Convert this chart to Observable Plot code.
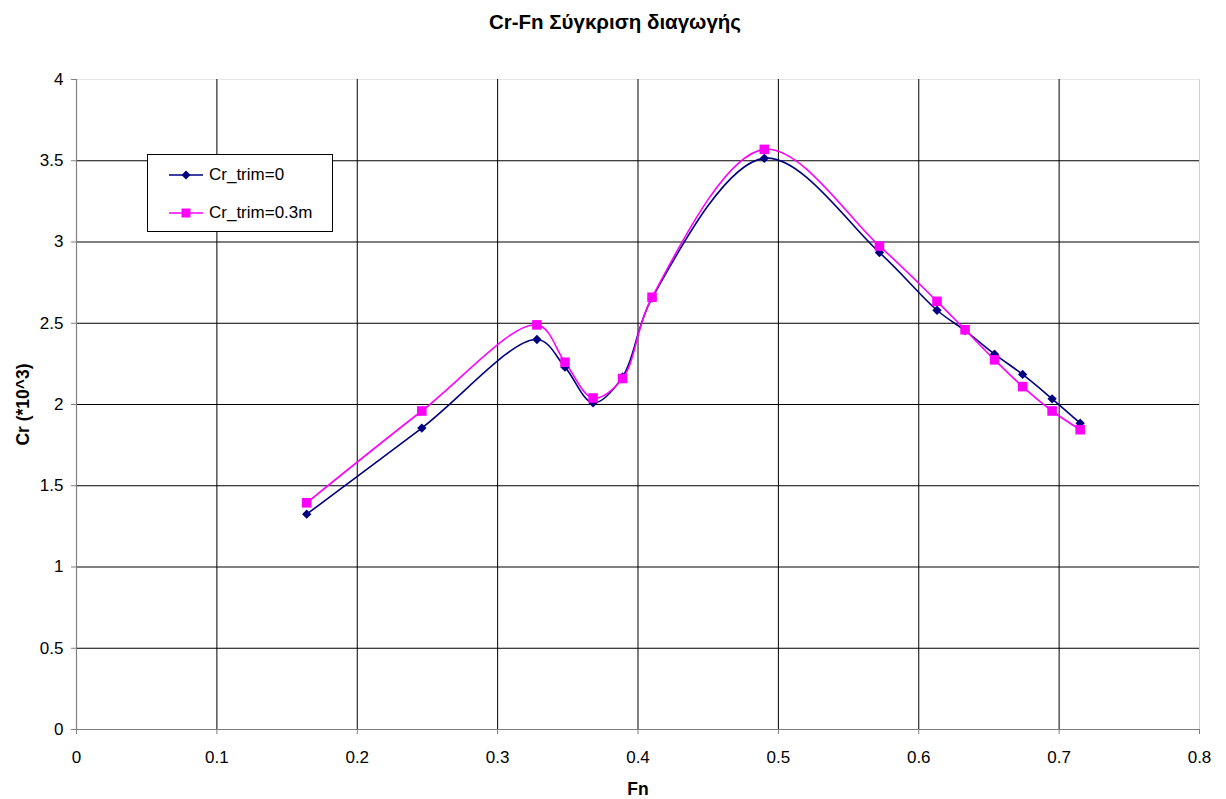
<!DOCTYPE html>
<html>
<head>
<meta charset="utf-8">
<script src="https://cdn.jsdelivr.net/npm/d3@7"></script>
<script src="https://cdn.jsdelivr.net/npm/@observablehq/plot@0.6"></script>
<style>
  html, body { margin: 0; padding: 0; background: #fff; }
  body { width: 1226px; height: 799px; position: relative; overflow: hidden; font-family: "Liberation Sans", Arial, sans-serif; }
  #title { height: 40px; line-height: 44px; text-align: center; font-weight: bold; font-size: 20.5px; color: #000; padding-left: 4px; }
  #legend { position: absolute; left: 147px; top: 154px; width: 184px; height: 76px; border: 1px solid #000; background: #fff; font-size: 17px; }
  .entry { position: absolute; left: 20px; height: 20px; display: flex; align-items: center; }
  .entry span { margin-left: 5px; }
  #chart svg g[aria-label="x-axis tick label"] text,
  #chart svg g[aria-label="y-axis tick label"] text { font-size: 17px !important; font-family: "Liberation Sans", Arial, sans-serif !important; }
</style>
</head>
<body>
<div id="title">Cr-Fn Σύγκριση διαγωγής</div>
<div id="chart"></div>
<div id="legend">
  <div class="entry" style="top:10px"><svg width="36" height="12"><line x1="1" y1="6" x2="35" y2="6" stroke="#000080" stroke-width="1.5"/><path d="M18,1.5L22.5,6L18,10.5L13.5,6Z" fill="#000080"/></svg><span>Cr_trim=0</span></div>
  <div class="entry" style="top:48px"><svg width="36" height="12"><line x1="1" y1="6" x2="35" y2="6" stroke="#FF00FF" stroke-width="1.5"/><rect x="13.5" y="1.5" width="9" height="9" fill="#FF00FF"/></svg><span>Cr_trim=0.3m</span></div>
</div>
<script>
const fn = [0.164, 0.246, 0.328, 0.348, 0.368, 0.389, 0.410, 0.490, 0.572, 0.613, 0.633, 0.654, 0.674, 0.695, 0.715];
const crTrim0 = [1.325, 1.855, 2.40, 2.23, 2.01, 2.17, 2.655, 3.515, 2.935, 2.58, 2.455, 2.31, 2.185, 2.035, 1.885];
const crTrim03 = [1.395, 1.96, 2.49, 2.26, 2.04, 2.16, 2.66, 3.57, 2.975, 2.635, 2.46, 2.275, 2.11, 1.96, 1.845];
const seriesNames = ["Cr_trim=0", "Cr_trim=0.3m"];
const yTicks = [0, 0.5, 1, 1.5, 2, 2.5, 3, 3.5, 4];
const xTicks = [0, 0.1, 0.2, 0.3, 0.4, 0.5, 0.6, 0.7, 0.8];

const s0 = fn.map((x, i) => ({x, y: crTrim0[i], s: seriesNames[0]}));
const s1 = fn.map((x, i) => ({x, y: crTrim03[i], s: seriesNames[1]}));

const chart = Plot.plot({
  width: 1226,
  height: 759,
  marginTop: 39,
  marginBottom: 70,
  marginLeft: 76,
  marginRight: 27,
  style: {fontFamily: '"Liberation Sans", Arial, sans-serif', fontSize: "17px", color: "#000", background: "#fff"},
  x: {domain: [0, 0.8]},
  y: {domain: [0, 4]},
  marks: [
    Plot.ruleY(yTicks.filter(d => d > 0 && d < 4), {stroke: "#000", strokeWidth: 1}),
    Plot.ruleY([4], {stroke: "#e6e6e6"}),
    Plot.ruleX(xTicks.filter(d => d > 0 && d < 0.8), {stroke: "#000", strokeWidth: 1}),
    Plot.ruleX([0.8], {stroke: "#d0d0d0"}),
    Plot.ruleY([0], {stroke: "#808080", strokeWidth: 1.2}),
    Plot.ruleX([0], {stroke: "#808080", strokeWidth: 1.2}),
    Plot.axisY(yTicks, {tickSize: 5, tickPadding: 8, stroke: "#808080", label: null, tickFormat: d => String(d), fill: "#000", fontSize: 17}),
    Plot.axisX(xTicks, {tickSize: 5, tickPadding: 16, stroke: "#808080", label: null, tickFormat: d => String(d), fill: "#000", fontSize: 17}),
    Plot.line(s0, {x: "x", y: "y", stroke: "#000080", strokeWidth: 1.6, curve: "catmull-rom"}),
    Plot.line(s1, {x: "x", y: "y", stroke: "#FF00FF", strokeWidth: 1.6, curve: "catmull-rom"}),
    Plot.dot(s0, {x: "x", y: "y", symbol: "diamond2", fill: "#000080", r: 4.2}),
    Plot.dot(s1, {x: "x", y: "y", symbol: "square", fill: "#FF00FF", r: 5.4}),
    Plot.text(["Cr (*10^3)"], {frameAnchor: "left", dx: -53, rotate: -90, textAnchor: "middle", fontWeight: "bold", fontSize: 17.5}),
    Plot.text(["Fn"], {frameAnchor: "bottom", dy: 60, textAnchor: "middle", lineAnchor: "middle", fontWeight: "bold", fontSize: 17.5})
  ]
});
document.getElementById("chart").append(chart);
</script>
</body>
</html>
